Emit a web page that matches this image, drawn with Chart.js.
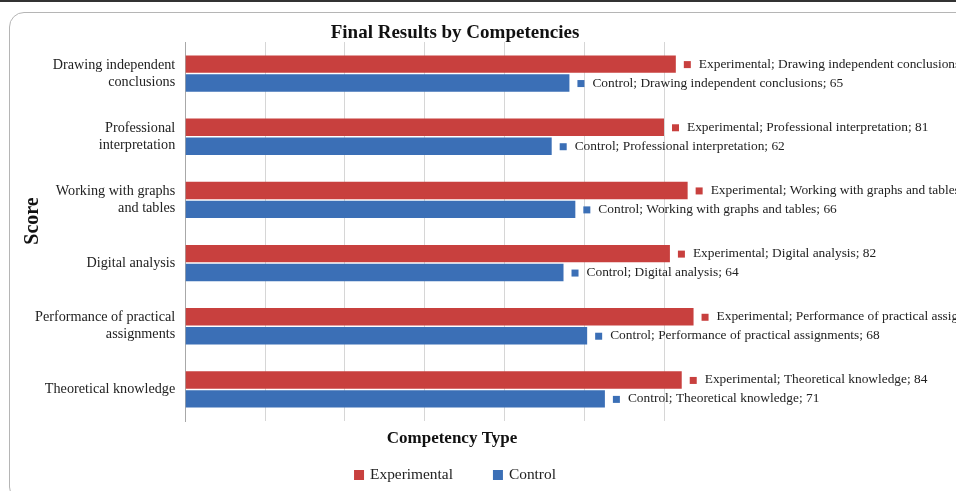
<!DOCTYPE html>
<html>
<head>
<meta charset="utf-8">
<script src="https://cdn.jsdelivr.net/npm/chart.js@4.4.0/dist/chart.umd.min.js"></script>
<style>
    html, body { margin: 0; padding: 0; background: #ffffff; }
    body { width: 956px; height: 491px; position: relative; overflow: hidden; }
    .sheet-top { position: absolute; left: 0; top: 0; width: 956px; height: 2px; background: #333; }
    .frame {
        position: absolute; left: 9px; top: 12px; width: 1000px; height: 490px;
        border: 1px solid #b5b5b5; border-radius: 15px; background: #fff;
        box-sizing: border-box;
    }
    #wrap { position: absolute; left: 0; top: 0; width: 956px; height: 491px; }
</style>
</head>
<body>
<div class="sheet-top"></div>
<div class="frame"></div>
<div id="wrap"><canvas id="results-chart"></canvas></div>
<script>
// Competencies, top to bottom
const competencies = [
    ['Drawing independent', 'conclusions'],
    ['Professional', 'interpretation'],
    ['Working with graphs', 'and tables'],
    'Digital analysis',
    ['Performance of practical', 'assignments'],
    'Theoretical knowledge'
];
const competencyNames = [
    'Drawing independent conclusions',
    'Professional interpretation',
    'Working with graphs and tables',
    'Digital analysis',
    'Performance of practical assignments',
    'Theoretical knowledge'
];
const experimentalScores = [83, 81, 85, 82, 86, 84];
const controlScores = [65, 62, 66, 64, 68, 71];

const chartTitle = 'Final Results by Competencies';
const xTitle = 'Competency Type';
const yTitle = 'Score';

const redColor = '#c8403e';
const blueColor = '#3b6fb6';
const serif = '"Liberation Serif", "DejaVu Serif", serif';

// Draws "Series; Category; value" next to each bar, Excel style
const barLabels = {
    id: 'barLabels',
    afterDatasetsDraw(chart) {
        const ctx = chart.ctx;
        ctx.save();
        ctx.font = '13.4px ' + serif;
        ctx.textBaseline = 'middle';
        ctx.textAlign = 'left';
        chart.data.datasets.forEach((ds, di) => {
            const meta = chart.getDatasetMeta(di);
            meta.data.forEach((bar, i) => {
                const x = bar.x;
                const y = bar.y;
                ctx.fillStyle = ds.backgroundColor;
                ctx.fillRect(x + 8, y - 3, 7, 7);
                ctx.fillStyle = '#222';
                ctx.fillText(ds.label + '; ' + competencyNames[i] + '; ' + ds.data[i], x + 23, y);
            });
        });
        ctx.restore();
    }
};

// Title, axis titles and legend are centred on the whole Excel chart box,
// not on the plot, so they are drawn here
const chartText = {
    id: 'chartText',
    afterDraw(chart) {
        const ctx = chart.ctx;
        const mid = 455;
        ctx.save();
        ctx.fillStyle = '#111';
        ctx.textBaseline = 'middle';
        ctx.textAlign = 'center';
        ctx.font = 'bold 19px ' + serif;
        ctx.fillText(chartTitle, mid, 33);
        ctx.font = 'bold 17px ' + serif;
        ctx.fillText(xTitle, 452, 439);

        ctx.save();
        ctx.translate(33, 221);
        ctx.rotate(-Math.PI / 2);
        ctx.font = 'bold 20px ' + serif;
        ctx.fillText(yTitle, 0, 0);
        ctx.restore();

        // legend
        ctx.font = '15.4px ' + serif;
        ctx.textAlign = 'left';
        const items = chart.data.datasets;
        const gap = 40;
        const widths = items.map(ds => 16 + ctx.measureText(ds.label).width);
        const total = widths.reduce((a, b) => a + b, 0) + gap * (items.length - 1);
        let x = mid - total / 2;
        items.forEach((ds, i) => {
            ctx.fillStyle = ds.backgroundColor;
            ctx.fillRect(x, 470, 10, 10);
            ctx.fillStyle = '#222';
            ctx.fillText(ds.label, x + 16, 475);
            x += widths[i] + gap;
        });
        ctx.restore();
    }
};

const ctx = document.getElementById('results-chart').getContext('2d');
const chart = new Chart(ctx, {
    type: 'bar',
    data: {
        labels: competencies,
        datasets: [
            {
                label: 'Experimental',
                data: experimentalScores,
                backgroundColor: redColor,
                categoryPercentage: 0.6,
                barPercentage: 0.92,
                clip: false
            },
            {
                label: 'Control',
                data: controlScores,
                backgroundColor: blueColor,
                categoryPercentage: 0.6,
                barPercentage: 0.92,
                clip: false
            }
        ]
    },
    options: {
        indexAxis: 'y',
        responsive: true,
        maintainAspectRatio: false,
        animation: false,
        layout: {
            padding: { left: 33, right: 292, top: 42, bottom: 70 }
        },
        plugins: {
            title: { display: false },
            legend: { display: false },
            tooltip: { enabled: false }
        },
        scales: {
            x: {
                min: 0,
                max: 81,
                ticks: { display: false, count: 7 },
                grid: { color: '#d6d6d6', drawTicks: false },
                border: { display: false }
            },
            y: {
                grid: { display: false },
                border: { color: '#a8a8a8' },
                ticks: {
                    color: '#222',
                    font: { family: serif, size: 14.2 },
                    padding: 2
                }
            }
        }
    },
    plugins: [barLabels, chartText]
});
</script>
</body>
</html>
